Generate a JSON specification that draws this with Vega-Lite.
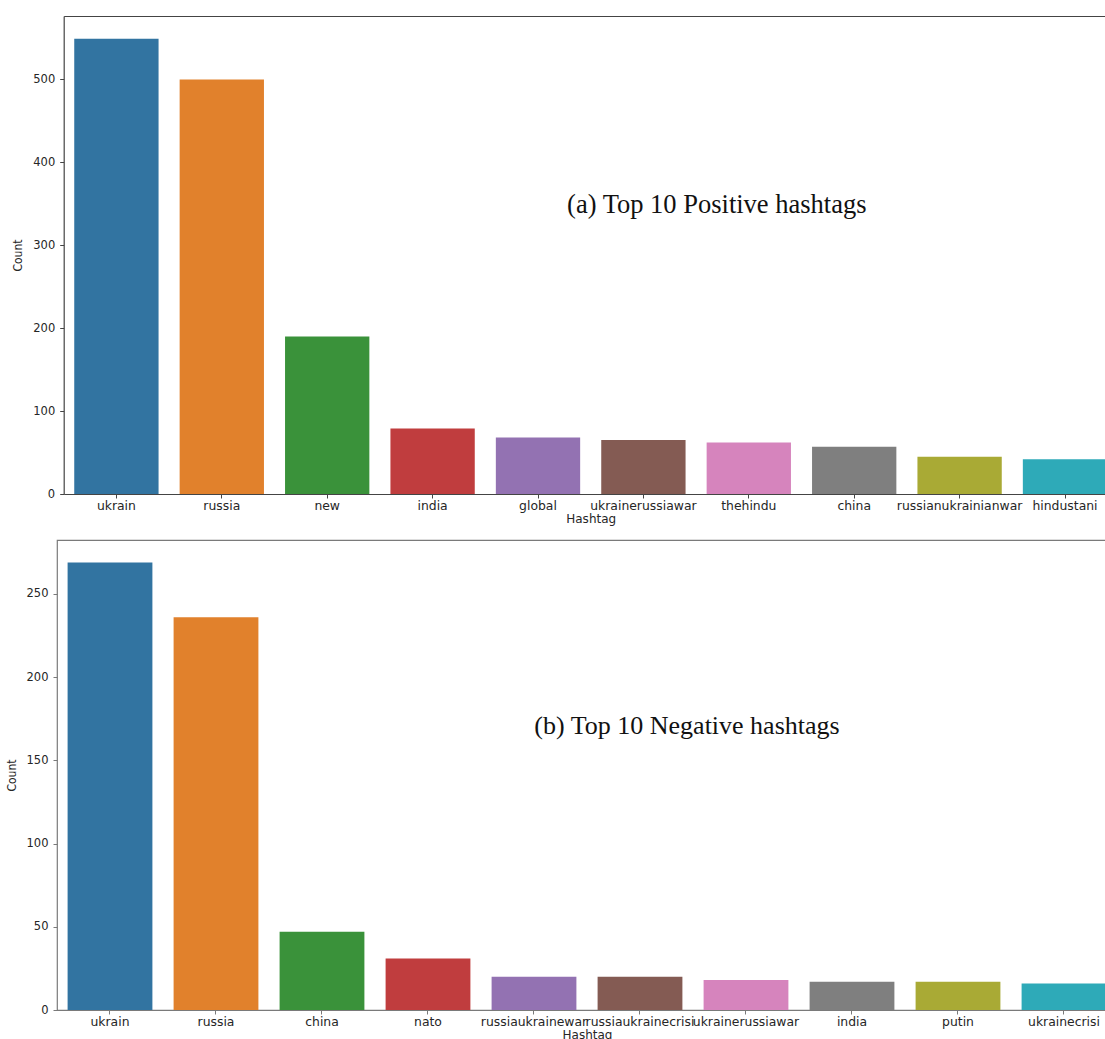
{
  "$schema": "https://vega.github.io/schema/vega-lite/v6.json",
  "background": "white",
  "padding": {"left": 4, "top": 16, "right": 0, "bottom": 0},
  "spacing": 14,
  "config": {
    "font": "DejaVu Sans",
    "axis": {
      "grid": false,
      "domain": false,
      "labelFont": "DejaVu Sans",
      "labelColor": "#262626",
      "titleColor": "#262626",
      "titleFontWeight": "normal",
      "tickSize": 4
    },
    "axisX": {"labelFontSize": 12.4, "labelAngle": 0, "labelPadding": 1.5, "labelOverlap": false, "labelBound": false, "titleFont": "DejaVu Sans", "titleFontSize": 12, "titlePadding": 2},
    "axisY": {"labelFontSize": 11.5, "labelPadding": 5, "titleFont": "DejaVu Sans Condensed, Liberation Sans Narrow, Roboto, sans-serif", "titleFontSize": 12, "titlePadding": 8}
  },
  "resolve": {"scale": {"x": "independent", "y": "independent", "color": "independent"}},
  "vconcat": [
    {
      "width": 1060.7,
      "height": 478,
      "view": {"stroke": null},
      "resolve": {"scale": {"x": "independent"}, "axis": {"x": "independent"}},
      "layer": [
        {
          "data": {"values": [
            {"hashtag": "ukrain", "count": 549},
            {"hashtag": "russia", "count": 500},
            {"hashtag": "new", "count": 190},
            {"hashtag": "india", "count": 79},
            {"hashtag": "global", "count": 68},
            {"hashtag": "ukrainerussiawar", "count": 65},
            {"hashtag": "thehindu", "count": 62},
            {"hashtag": "china", "count": 57},
            {"hashtag": "russianukrainianwar", "count": 45},
            {"hashtag": "hindustani", "count": 42}
          ]},
          "mark": {"type": "bar"},
          "encoding": {
            "x": {"field": "hashtag", "type": "nominal", "sort": null,
                  "scale": {"range": [6.7, 1060.7], "paddingInner": 0.2, "paddingOuter": 0.1},
                  "axis": {"title": "Hashtag", "tickColor": "#444444", "domain": true, "domainColor": "#444444", "domainWidth": 1.2}},
            "y": {"field": "count", "type": "quantitative",
                  "scale": {"domain": [0, 576.45], "nice": false},
                  "axis": {"title": "Count", "offset": -6.7, "values": [0, 100, 200, 300, 400, 500], "tickColor": "#444444", "domain": true, "domainColor": "#444444", "domainWidth": 1.2}},
            "color": {"field": "hashtag", "type": "nominal", "sort": null, "legend": null,
                      "scale": {"range": ["#3274a1", "#e1812c", "#3a923a", "#c03d3e", "#9372b2", "#845b53", "#d684bd", "#7f7f7f", "#a9aa35", "#2eaab8"]}}
          }
        },
        {
          "data": {"values": [{"label": "(a) Top 10 Positive hashtags"}]},
          "mark": {"type": "text", "font": "Liberation Serif", "fontSize": 26.5, "baseline": "alphabetic", "align": "center", "dx": -32, "color": "#111111"},
          "encoding": {
            "x": {"datum": "thehindu",
                  "scale": {"type": "band", "domain": ["ukrain", "russia", "new", "india", "global", "ukrainerussiawar", "thehindu", "china", "russianukrainianwar", "hindustani"],
                            "range": [6.7, 1060.7], "paddingInner": 0.2, "paddingOuter": 0.1},
                  "axis": {"orient": "top", "labels": false, "ticks": false, "title": null, "domain": true, "domainColor": "#444444", "domainWidth": 1.2}},
            "y": {"datum": 339},
            "text": {"field": "label"}
          }
        }
      ]
    },
    {
      "width": 1060,
      "height": 470,
      "view": {"stroke": "#7a7a7a", "strokeWidth": 1.2},
      "layer": [
        {
          "data": {"values": [
            {"hashtag": "ukrain", "count": 269},
            {"hashtag": "russia", "count": 236},
            {"hashtag": "china", "count": 47},
            {"hashtag": "nato", "count": 31},
            {"hashtag": "russiaukrainewar", "count": 20},
            {"hashtag": "russiaukrainecrisi", "count": 20},
            {"hashtag": "ukrainerussiawar", "count": 18},
            {"hashtag": "india", "count": 17},
            {"hashtag": "putin", "count": 17},
            {"hashtag": "ukrainecrisi", "count": 16}
          ]},
          "mark": {"type": "bar"},
          "encoding": {
            "x": {"field": "hashtag", "type": "nominal", "sort": null,
                  "scale": {"paddingInner": 0.2, "paddingOuter": 0.1},
                  "axis": {"title": "Hashtag", "tickColor": "#7a7a7a"}},
            "y": {"field": "count", "type": "quantitative",
                  "scale": {"domain": [0, 282.45], "nice": false},
                  "axis": {"title": "Count", "values": [0, 50, 100, 150, 200, 250], "tickColor": "#7a7a7a"}},
            "color": {"field": "hashtag", "type": "nominal", "sort": null, "legend": null,
                      "scale": {"range": ["#3274a1", "#e1812c", "#3a923a", "#c03d3e", "#9372b2", "#845b53", "#d684bd", "#7f7f7f", "#a9aa35", "#2eaab8"]}}
          }
        },
        {
          "data": {"values": [{"label": "(b) Top 10 Negative hashtags"}]},
          "mark": {"type": "text", "font": "Liberation Serif", "fontSize": 26, "baseline": "alphabetic", "align": "center", "dx": -59, "color": "#111111"},
          "encoding": {
            "x": {"datum": "ukrainerussiawar"},
            "y": {"datum": 166},
            "text": {"field": "label"}
          }
        }
      ]
    }
  ]
}
